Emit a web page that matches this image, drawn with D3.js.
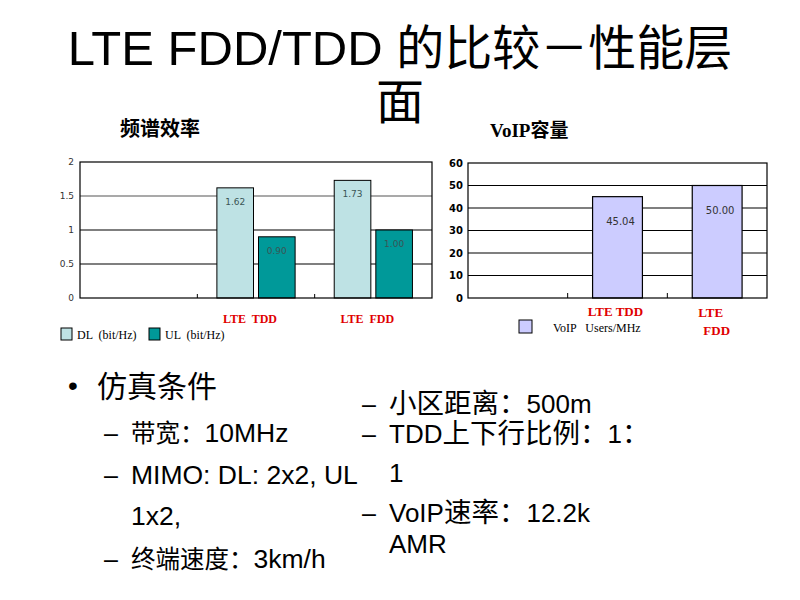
<!DOCTYPE html>
<html>
<head>
<meta charset="utf-8">
<script src="https://cdn.jsdelivr.net/npm/d3@7"></script>
<style>
html,body{margin:0;padding:0;background:#fff;}
svg{display:block;}
text{white-space:pre;}
</style>
</head>
<body>
<svg id="chart" width="800" height="600"></svg>
<script>
// ---- data ----
const seCategories = ["", "LTE  TDD", "LTE  FDD"];
const seSeries = ["DL", "UL"];
const seDL = [null, 1.62, 1.73];
const seUL = [null, 0.90, 1.00];
const seTicks = [0, 0.5, 1, 1.5, 2];
const seTickLabels = ["0", "0.5", "1", "1.5", "2"];
const seLegend = ["DL  (bit/Hz)", "UL  (bit/Hz)"];

const voipCategories = ["", "LTE TDD", "LTE FDD"];
const voipValues = [null, 45.04, 50.00];
const voipTicks = [0, 10, 20, 30, 40, 50, 60];
const voipLegend = ["VoIP   Users/MHz"];

const titleLines = ["LTE FDD/TDD 的比较－性能层", "面"];
const chartTitles = ["频谱效率", "VoIP容量"];
const bulletMain = "仿真条件";
const leftItems = [["–", "带宽：10MHz"], ["–", "MIMO: DL: 2x2, UL"], ["", "1x2,"], ["–", "终端速度：3km/h"]];
const rightItems = [["–", "小区距离：500m"], ["–", "TDD上下行比例：1："], ["", "1"], ["–", "VoIP速率：12.2k"], ["", "AMR"]];

// ---- drawing ----
const svg = d3.select("#chart");
const SANS = "'Liberation Sans', Arial, 'Noto Sans CJK SC', sans-serif";
const SERIF = "'Liberation Serif', 'Times New Roman', 'Noto Sans CJK SC', serif";
const TAHOMA = "'DejaVu Sans', Verdana, sans-serif";

// split text into CJK / non-CJK runs with separate font sizes
const isCJK = ch => /[\u3000-\u303f\u4e00-\u9fff\uff00-\uffef]/.test(ch);
function mixedText(sel, str, latinSize, cjkSize) {
  const runs = [];
  for (const ch of str) {
    const c = isCJK(ch);
    if (runs.length && runs[runs.length - 1].c === c) runs[runs.length - 1].t += ch;
    else runs.push({c, t: ch});
  }
  runs.forEach(r => sel.append("tspan").attr("font-size", r.c ? cjkSize : latinSize).text(r.t));
  return sel;
}

// Title
mixedText(svg.append("text").attr("x", 400).attr("y", 65).attr("text-anchor", "middle")
  .attr("font-family", SANS).attr("fill", "#000"), titleLines[0], 49, 48);
svg.append("text").attr("x", 400).attr("y", 119).attr("text-anchor", "middle")
  .attr("font-family", SANS).attr("font-size", 48).attr("fill", "#000").text(titleLines[1]);

// Chart titles
svg.append("text").attr("x", 120).attr("y", 136).attr("font-family", SANS)
  .attr("font-size", 20).attr("font-weight", "bold").text(chartTitles[0]);
svg.append("text").attr("x", 490).attr("y", 137).attr("font-family", SERIF)
  .attr("font-size", 19).attr("font-weight", "bold").text(chartTitles[1]);

// ---------- Left chart: spectral efficiency ----------
const L = {x0: 80, x1: 432, y0: 162, y1: 298};
const xL = d3.scaleBand().domain(seCategories).range([L.x0, L.x1]).padding(0);
const xLi = d3.scaleBand().domain(seSeries).range([0, xL.bandwidth()]).paddingInner(0.12).paddingOuter(0.47);
const yL = d3.scaleLinear().domain([0, 2]).range([L.y1, L.y0]);
const gL = svg.append("g");

gL.selectAll("line.grid").data(seTicks.filter(t => t > 0 && t < 2)).join("line")
  .attr("x1", L.x0).attr("x2", L.x1).attr("y1", d => yL(d)).attr("y2", d => yL(d))
  .attr("stroke", d => d === 1.5 ? "#555" : "#000").attr("stroke-width", 1.2);

const seColors = {DL: "#BEE2E4", UL: "#009999"};
const seData = [];
seCategories.forEach((c, i) => {
  if (seDL[i] != null) seData.push({cat: c, s: "DL", v: seDL[i]});
  if (seUL[i] != null) seData.push({cat: c, s: "UL", v: seUL[i]});
});
gL.selectAll("rect.bar").data(seData).join("rect")
  .attr("x", d => xL(d.cat) + xLi(d.s)).attr("y", d => yL(d.v))
  .attr("width", xLi.bandwidth()).attr("height", d => yL(0) - yL(d.v))
  .attr("fill", d => seColors[d.s]).attr("stroke", "#000").attr("stroke-width", 1);
gL.selectAll("text.val").data(seData).join("text")
  .attr("x", d => xL(d.cat) + xLi(d.s) + xLi.bandwidth() / 2).attr("y", d => yL(d.v) + 17)
  .attr("text-anchor", "middle").attr("font-family", TAHOMA).attr("font-size", 9)
  .attr("fill", "#3A5555").text(d => d.v.toFixed(2));

gL.append("rect").attr("x", L.x0).attr("y", L.y0).attr("width", L.x1 - L.x0).attr("height", L.y1 - L.y0)
  .attr("fill", "none").attr("stroke", "#000").attr("stroke-width", 1.2);

const axL = d3.axisLeft(yL).tickValues(seTicks).tickSize(0).tickPadding(6)
  .tickFormat((d, i) => seTickLabels[i]);
const axLg = gL.append("g").attr("transform", `translate(${L.x0},0)`).call(axL);
axLg.select(".domain").remove();
axLg.selectAll("text").attr("font-family", TAHOMA).attr("font-size", 9).attr("fill", "#333");

gL.selectAll("line.ctick").data(seCategories.slice(1)).join("line")
  .attr("x1", d => xL(d)).attr("x2", d => xL(d)).attr("y1", L.y1).attr("y2", L.y1 - 4)
  .attr("stroke", "#000");

gL.selectAll("text.cat").data(seCategories.filter(c => c)).join("text")
  .attr("x", d => xL(d) + xL.bandwidth() / 2 - 6).attr("y", 323).attr("text-anchor", "middle")
  .attr("font-family", SERIF).attr("font-size", 12).attr("font-weight", "bold")
  .attr("fill", "#E00000").text(d => d);

const legL = gL.append("g");
const legX = [61, 149];
seSeries.forEach((s, i) => {
  legL.append("rect").attr("x", legX[i]).attr("y", 328).attr("width", 11).attr("height", 12)
    .attr("fill", seColors[s]).attr("stroke", "#000").attr("stroke-width", 1);
  legL.append("text").attr("x", legX[i] + 16).attr("y", 339).attr("font-family", SERIF)
    .attr("font-size", 12).attr("fill", "#000").text(seLegend[i]);
});

// ---------- Right chart: VoIP capacity ----------
const R = {x0: 468, x1: 767, y0: 163, y1: 298};
const xR = d3.scaleBand().domain(voipCategories).range([R.x0, R.x1]).paddingInner(0.5).paddingOuter(0.25);
const xRb = d3.scaleBand().domain(voipCategories).range([R.x0, R.x1]).padding(0);
const yR = d3.scaleLinear().domain([0, 60]).range([R.y1, R.y0]);
const gR = svg.append("g");

gR.selectAll("line.grid").data(voipTicks.filter(t => t > 0 && t < 60)).join("line")
  .attr("x1", R.x0).attr("x2", R.x1).attr("y1", d => yR(d)).attr("y2", d => yR(d))
  .attr("stroke", "#000").attr("stroke-width", 1.2);

const vData = voipCategories.map((c, i) => ({cat: c, v: voipValues[i]})).filter(d => d.v != null);
gR.selectAll("rect.bar").data(vData).join("rect")
  .attr("x", d => xR(d.cat)).attr("y", d => yR(d.v))
  .attr("width", xR.bandwidth()).attr("height", d => yR(0) - yR(d.v))
  .attr("fill", "#CCCCFF").attr("stroke", "#000").attr("stroke-width", 1.2);
gR.selectAll("text.val").data(vData).join("text")
  .attr("x", d => xR(d.cat) + xR.bandwidth() / 2 + 3).attr("y", d => yR(d.v) + 28)
  .attr("text-anchor", "middle").attr("font-family", TAHOMA).attr("font-size", 10)
  .attr("fill", "#333").text(d => d.v.toFixed(2));

gR.append("rect").attr("x", R.x0).attr("y", R.y0).attr("width", R.x1 - R.x0).attr("height", R.y1 - R.y0)
  .attr("fill", "none").attr("stroke", "#000").attr("stroke-width", 1.2);

const axR = d3.axisLeft(yR).tickValues(voipTicks).tickSize(0).tickPadding(5).tickFormat(d3.format("d"));
const axRg = gR.append("g").attr("transform", `translate(${R.x0},0)`).call(axR);
axRg.select(".domain").remove();
axRg.selectAll("text").attr("font-family", TAHOMA).attr("font-size", 10).attr("font-weight", "bold").attr("fill", "#000");

gR.selectAll("line.ctick").data(voipCategories.slice(1)).join("line")
  .attr("x1", d => xRb(d)).attr("x2", d => xRb(d)).attr("y1", R.y1).attr("y2", R.y1 - 5)
  .attr("stroke", "#000");

const catR = gR.append("g");
catR.append("text").attr("x", xRb(voipCategories[1]) + xRb.bandwidth() / 2 - 2).attr("y", 316)
  .attr("text-anchor", "middle").attr("font-family", SERIF).attr("font-size", 13).attr("font-weight", "bold")
  .attr("fill", "#E00000").text(voipCategories[1]);
const fddParts = voipCategories[2].split(" ");
catR.append("text").attr("x", xRb(voipCategories[2]) + 31).attr("y", 317)
  .attr("font-family", SERIF).attr("font-size", 13).attr("font-weight", "bold")
  .attr("fill", "#E00000").text(fddParts[0]);
catR.append("text").attr("x", xRb(voipCategories[2]) + 36).attr("y", 335)
  .attr("font-family", SERIF).attr("font-size", 13).attr("font-weight", "bold")
  .attr("fill", "#E00000").text(fddParts[1]);

gR.append("rect").attr("x", 519).attr("y", 320).attr("width", 13).attr("height", 13)
  .attr("fill", "#CCCCFF").attr("stroke", "#000").attr("stroke-width", 1);
gR.append("text").attr("x", 553).attr("y", 332).attr("font-family", SERIF).attr("font-size", 12)
  .attr("fill", "#000").text(voipLegend[0]);

// ---------- Bullet text ----------
const gT = svg.append("g").attr("font-family", SANS).attr("fill", "#000");
gT.append("text").attr("x", 68).attr("y", 395).attr("font-size", 28).text("•");
gT.append("text").attr("x", 97).attr("y", 397).attr("font-size", 30).text(bulletMain);

const leftY = [442, 484, 525, 568];
leftItems.forEach((it, i) => {
  if (it[0]) gT.append("text").attr("x", 104).attr("y", leftY[i]).attr("font-size", 25).text(it[0]);
  mixedText(gT.append("text").attr("x", 131).attr("y", leftY[i]), it[1], 26.5, 24.5);
});
const rightY = [413, 443, 482, 522, 553];
rightItems.forEach((it, i) => {
  if (it[0]) gT.append("text").attr("x", 362).attr("y", rightY[i]).attr("font-size", 25).text(it[0]);
  mixedText(gT.append("text").attr("x", 389).attr("y", rightY[i]), it[1], 26, 27.5);
});
</script>
</body>
</html>
